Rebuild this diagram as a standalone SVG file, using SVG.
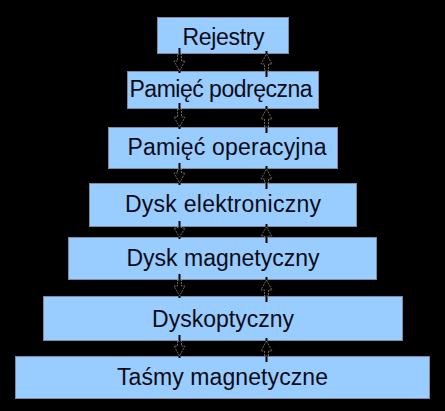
<svg xmlns="http://www.w3.org/2000/svg" width="445" height="411" viewBox="0 0 445 411">
<style>
.box{fill:#99ccff;stroke:#7d8ca3;stroke-width:1}
.lbl{font-family:"Liberation Sans",Arial,sans-serif;font-size:23px;fill:#0b0b16;text-anchor:middle}
.ln{stroke:#000;stroke-width:2;fill:none}
.ah{fill:#000;stroke:#b8b0a0;stroke-width:0.6;stroke-dasharray:2 1}
</style>
<rect x="0" y="0" width="445" height="411" fill="#000"/>
<g id="n1"><rect class="box" x="157.5" y="17.5" width="131" height="36"/><text class="lbl" x="223.5" y="45" textLength="82">Rejestry</text></g>
<g id="n2"><rect class="box" x="127.5" y="71.5" width="191" height="37"/><text class="lbl" x="221" y="97" textLength="183">Pamięć podręczna</text></g>
<g id="n3"><rect class="box" x="108.5" y="127.5" width="229" height="41"/><text class="lbl" x="227" y="155" textLength="199">Pamięć operacyjna</text></g>
<g id="n4"><rect class="box" x="89.5" y="183.5" width="267" height="43"/><text class="lbl" x="223" y="212" textLength="196">Dysk elektroniczny</text></g>
<g id="n5"><rect class="box" x="68.5" y="237.5" width="308" height="42"/><text class="lbl" x="223" y="266">Dysk magnetyczny</text></g>
<g id="n6"><rect class="box" x="43.5" y="296.5" width="359" height="44"/><text class="lbl" x="223" y="327" textLength="142">Dyskoptyczny</text></g>
<g id="n7"><rect class="box" x="15.5" y="356.5" width="414" height="42"/><text class="lbl" x="222.5" y="385" textLength="211">Taśmy magnetyczne</text></g>
<g id="connectors">
<path class="ln" d="M179.5,48V73 M266.5,77V51 M179.5,103V129 M266.5,133V106 M179.5,163V185 M266.5,189V166 M179.5,221V239 M266.5,243V224 M179.5,274V298 M266.5,302V277 M179.5,335V358 M266.5,362V338"/>
<path class="ah" d="M177.5,54L181.5,54L181.5,61L185,61L179.5,71L174,61L177.5,61Z"/>
<path class="ah" d="M266.5,54L272,64L268.5,64L268.5,71L264.5,71L264.5,64L261,64Z"/>
<path class="ah" d="M177.5,109L181.5,109L181.5,117L185,117L179.5,127L174,117L177.5,117Z"/>
<path class="ah" d="M266.5,109L272,119L268.5,119L268.5,127L264.5,127L264.5,119L261,119Z"/>
<path class="ah" d="M177.5,169L181.5,169L181.5,173L185,173L179.5,183L174,173L177.5,173Z"/>
<path class="ah" d="M266.5,169L272,179L268.5,179L268.5,183L264.5,183L264.5,179L261,179Z"/>
<path class="ah" d="M177.5,227L181.5,227L181.5,228L185,228L179.5,237L174,228L177.5,228Z"/>
<path class="ah" d="M266.5,227L272,236L268.5,236L268.5,237L264.5,237L264.5,236L261,236Z"/>
<path class="ah" d="M177.5,280L181.5,280L181.5,286L185,286L179.5,296L174,286L177.5,286Z"/>
<path class="ah" d="M266.5,280L272,290L268.5,290L268.5,296L264.5,296L264.5,290L261,290Z"/>
<path class="ah" d="M177.5,341L181.5,341L181.5,346L185,346L179.5,356L174,346L177.5,346Z"/>
<path class="ah" d="M266.5,341L272,351L268.5,351L268.5,356L264.5,356L264.5,351L261,351Z"/>
</g>
</svg>
